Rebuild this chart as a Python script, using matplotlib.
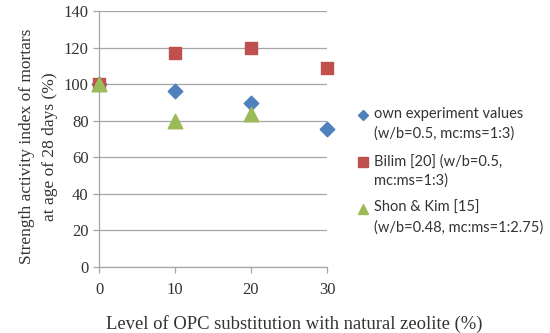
import matplotlib
matplotlib.use("Agg")
import matplotlib.pyplot as plt
import numpy as np
from matplotlib.lines import Line2D
from matplotlib.legend_handler import HandlerLine2D

x_own = [0, 10, 20, 30]
y_own = [100, 96, 89.5, 75.3]
x_bilim = [0, 10, 20, 30]
y_bilim = [100, 117, 119.8, 108.8]
x_shon = [0, 10, 20]
y_shon = [100, 79.8, 83.7]

labels = ["own experiment values\n(w/b=0.5, mc:ms=1:3)",
          "Bilim [20] (w/b=0.5,\nmc:ms=1:3)",
          "Shon & Kim [15]\n(w/b=0.48, mc:ms=1:2.75)"]
colors = ["#4F81BD", "#C0504D", "#9BBB59"]
xticks = [0, 10, 20, 30]
yticks = [0, 20, 40, 60, 80, 100, 120, 140]

serif = ["Liberation Serif", "DejaVu Serif"]
LEG_FS = 10.5
LEG_LS = 1.45
LINE_PITCH_PT = 19 * 72 / 100  # distance between the two text lines, in points


class TopHandler(HandlerLine2D):
    def create_artists(self, legend, orig_handle, xdescent, ydescent, width, height, fontsize, trans):
        arts = super().create_artists(legend, orig_handle, xdescent, ydescent, width, height, fontsize, trans)
        for a in arts:
            a.set_ydata(np.asarray(a.get_ydata()) + LINE_PITCH_PT / 2)
        return arts


fig = plt.figure(figsize=(5.5, 3.33), dpi=100)
ax = fig.add_axes([99/550, 1-267/333, (327-99)/550, (267-11)/333])

ax.scatter(x_own, y_own, marker="D", s=55, color=colors[0], clip_on=False, zorder=3)
ax.scatter(x_bilim, y_bilim, marker="s", s=85, color=colors[1], clip_on=False, zorder=3)
ax.scatter(x_shon, y_shon, marker="^", s=110, color=colors[2], clip_on=False, zorder=4)

ax.set_xlim(0, 30)
ax.set_ylim(0, 140)
ax.set_xticks(xticks)
ax.set_yticks(yticks)
ax.yaxis.grid(True, color="#A6A6A6", linewidth=0.9)
ax.set_axisbelow(True)
for s in ["top", "right"]:
    ax.spines[s].set_visible(False)
for s in ["left", "bottom"]:
    ax.spines[s].set_color("#A6A6A6")
    ax.spines[s].set_linewidth(0.9)
ax.tick_params(axis="both", colors="#A6A6A6", length=4, width=0.9, labelcolor="#333333", labelsize=12)
for t in ax.get_xticklabels() + ax.get_yticklabels():
    t.set_fontfamily(serif)
ax.tick_params(axis="x", pad=7)

ax.set_ylabel("Strength activity index of mortars\nat age of 28 days (%)", fontsize=12.5, family=serif,
              color="#333333", linespacing=1.6)
ax.yaxis.set_label_coords(-0.18, 0.47)
ax.set_xlabel("Level of OPC substitution with natural zeolite (%)", fontsize=13.4, family=serif, color="#333333")
ax.xaxis.set_label_coords((294-99)/228, -(315-267)/256)

handles = [Line2D([], [], marker="D", linestyle="", color=colors[0], markersize=5),
           Line2D([], [], marker="s", linestyle="", color=colors[1], markersize=6.5),
           Line2D([], [], marker="^", linestyle="", color=colors[2], markersize=7)]
leg = ax.legend(handles, labels, loc="center left", bbox_to_anchor=(1.112, 0.375), frameon=False,
                prop={"family": ["Lato", "DejaVu Sans"], "size": LEG_FS}, handletextpad=0.35,
                labelspacing=0.9, handlelength=0.7, borderaxespad=0,
                handler_map={Line2D: TopHandler()})
for t in leg.get_texts():
    t.set_color("#333333")
    t.set_linespacing(LEG_LS)

fig.savefig("out.png", dpi=100)
